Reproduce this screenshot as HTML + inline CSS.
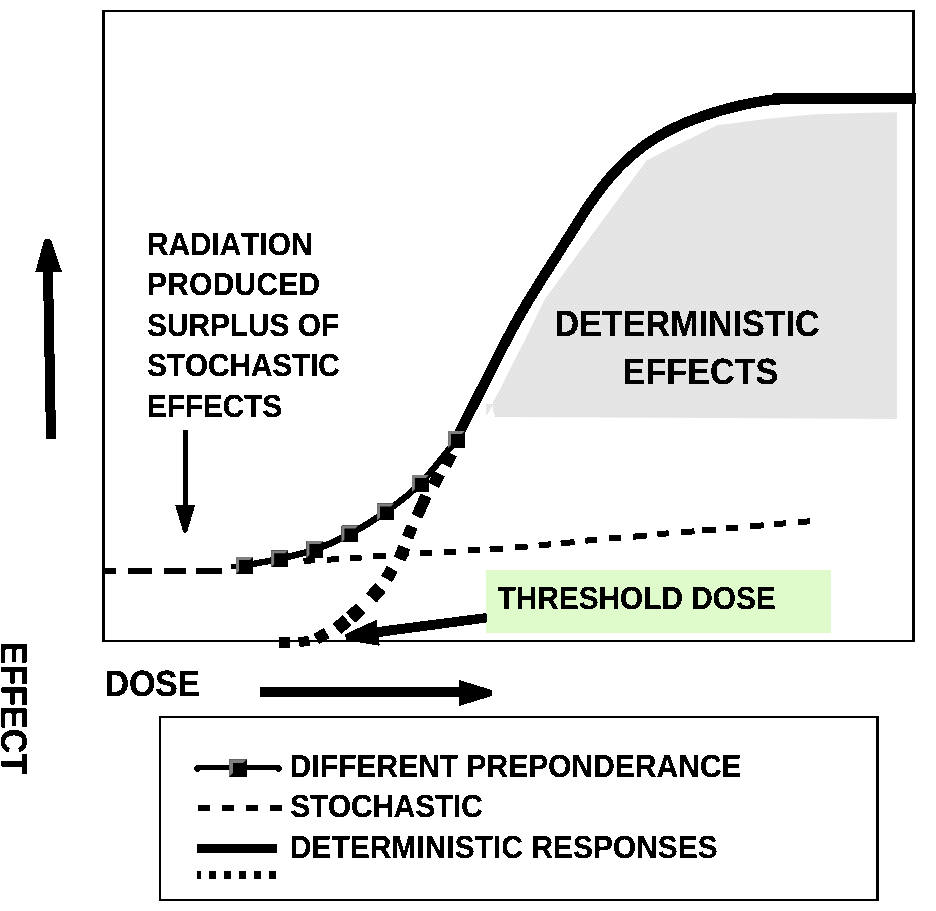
<!DOCTYPE html>
<html><head><meta charset="utf-8"><style>
html,body{margin:0;padding:0;background:#fff;}
svg{display:block;}
svg{will-change:transform;}
text{font-kerning:none;}
</style></head><body>
<svg width="936" height="911" viewBox="0 0 936 911">
<rect x="0" y="0" width="936" height="911" fill="#fff"/>
<defs><pattern id="dith" patternUnits="userSpaceOnUse" x="0" y="0" width="4" height="4"><rect width="4" height="4" fill="#e6e6e6"/><rect x="3" y="0" width="1" height="1" fill="#dadada"/><rect x="1" y="2" width="1" height="1" fill="#dadada"/></pattern></defs>
<polygon points="495.0,417.0 494.0,413.0 493.0,410.0 493.0,402.0 494.0,400.0 500.1,389.4 509.4,370.2 525.2,339.4 544.6,299.4 646.5,160.4 672.7,146.9 694.1,136.7 717.6,125.0 730.0,123.7 745.9,121.4 765.0,119.0 812.2,114.4 860.0,113.0 897.0,112.2 897.0,419.0" fill="url(#dith)"/>
<polygon points="486.1,404.1 493.0,404.1 493.0,405.0 486.3,415.9" fill="url(#dith)"/>
<rect x="486" y="570" width="345" height="63" fill="#e0fbcb"/>
<defs><filter id="bin2" x="0" y="0" width="936" height="911" filterUnits="userSpaceOnUse"><feComponentTransfer><feFuncA type="discrete" tableValues="0 1"/></feComponentTransfer></filter></defs><g filter="url(#bin2)">
<rect x="102" y="10" width="813" height="2" fill="#000"/><rect x="102" y="640" width="813" height="2" fill="#000"/><rect x="102" y="10" width="3" height="632" fill="#000"/><rect x="912" y="10" width="3" height="632" fill="#000"/>
<rect x="104.0" y="567.9" width="12.0" height="5.9" fill="#000"/>
<rect x="128.0" y="567.9" width="24.0" height="5.9" fill="#000"/>
<rect x="164.0" y="567.9" width="22.0" height="5.9" fill="#000"/>
<rect x="196.0" y="567.9" width="26.0" height="5.9" fill="#000"/>
<line x1="231" y1="567" x2="238" y2="566" stroke="#000" stroke-width="5"/>
<line x1="303.5" y1="560.9" x2="315.0" y2="560.3" stroke="#000" stroke-width="6"/>
<line x1="327.0" y1="559.7" x2="339.0" y2="559.0" stroke="#000" stroke-width="6"/>
<line x1="349.7" y1="558.4" x2="361.6" y2="557.5" stroke="#000" stroke-width="6"/>
<line x1="372.7" y1="556.5" x2="385.9" y2="555.4" stroke="#000" stroke-width="6"/>
<line x1="396.2" y1="554.7" x2="408.4" y2="553.8" stroke="#000" stroke-width="6"/>
<line x1="420.0" y1="553.0" x2="432.2" y2="552.4" stroke="#000" stroke-width="6"/>
<line x1="443.8" y1="552.1" x2="456.0" y2="551.4" stroke="#000" stroke-width="6"/>
<line x1="467.8" y1="550.5" x2="480.0" y2="549.7" stroke="#000" stroke-width="6"/>
<line x1="489.6" y1="549.2" x2="503.0" y2="548.4" stroke="#000" stroke-width="6"/>
<line x1="514.8" y1="547.5" x2="527.6" y2="546.4" stroke="#000" stroke-width="6"/>
<line x1="538.7" y1="545.5" x2="551.0" y2="544.3" stroke="#000" stroke-width="6"/>
<line x1="560.7" y1="543.4" x2="574.6" y2="541.9" stroke="#000" stroke-width="6"/>
<line x1="585.3" y1="540.7" x2="597.0" y2="539.5" stroke="#000" stroke-width="6"/>
<line x1="608.8" y1="538.4" x2="621.2" y2="537.4" stroke="#000" stroke-width="6"/>
<line x1="633.0" y1="536.7" x2="646.7" y2="535.5" stroke="#000" stroke-width="6"/>
<line x1="657.4" y1="534.3" x2="668.9" y2="533.2" stroke="#000" stroke-width="6"/>
<line x1="681.3" y1="532.4" x2="694.5" y2="531.3" stroke="#000" stroke-width="6"/>
<line x1="702.2" y1="530.6" x2="715.9" y2="529.4" stroke="#000" stroke-width="6"/>
<line x1="726.0" y1="528.5" x2="738.0" y2="527.5" stroke="#000" stroke-width="6"/>
<line x1="750.3" y1="526.5" x2="763.8" y2="525.2" stroke="#000" stroke-width="6"/>
<line x1="774.2" y1="524.3" x2="786.0" y2="523.2" stroke="#000" stroke-width="6"/>
<line x1="798.2" y1="522.2" x2="810.0" y2="521.2" stroke="#000" stroke-width="6"/>
<rect x="279.0" y="636.8" width="11.0" height="11.0" fill="#000" transform="rotate(0.0 284.5 642.3)"/>
<rect x="298.8" y="636.5" width="10.5" height="10.0" fill="#000" transform="rotate(-10.0 304.0 641.5)"/>
<rect x="315.5" y="630.2" width="12.0" height="11.5" fill="#000" transform="rotate(-30.0 321.5 636.0)"/>
<rect x="335.2" y="617.8" width="13.5" height="13.5" fill="#000" transform="rotate(-40.0 342.0 624.5)"/>
<rect x="348.8" y="606.1" width="13.7" height="13.7" fill="#000" transform="rotate(-43.0 355.7 613.0)"/>
<rect x="369.0" y="585.8" width="13.7" height="14.0" fill="#000" transform="rotate(-49.0 375.9 592.8)"/>
<rect x="383.6" y="567.5" width="11.6" height="12.6" fill="#000" transform="rotate(-62.0 389.4 573.8)"/>
<rect x="395.4" y="546.9" width="13.0" height="12.5" fill="#000" transform="rotate(-68.0 401.9 553.1)"/>
<rect x="403.8" y="526.0" width="12.0" height="12.0" fill="#000" transform="rotate(-68.0 409.8 532.0)"/>
<rect x="410.3" y="500.2" width="22.4" height="11.8" fill="#000" transform="rotate(-65.7 421.5 506.1)"/>
<rect x="430.0" y="473.5" width="13.0" height="12.0" fill="#000" transform="rotate(-62.0 436.5 479.5)"/>
<rect x="442.0" y="453.5" width="13.0" height="12.0" fill="#000" transform="rotate(-62.0 448.5 459.5)"/>
<path d="M244.5,565.4 C250.3,564.3 267.9,561.4 279.6,558.8 C291.3,556.1 303.2,553.6 314.9,549.5 C326.6,545.4 338.1,540.2 349.9,534.0 C361.7,527.8 373.8,520.4 385.5,512.0 C397.2,503.6 408.6,495.6 420.4,483.5 C432.2,471.4 450.5,446.8 456.5,439.5" fill="none" stroke="#000" stroke-width="6.5"/>
<path d="M456.2,439.4 L459.4,432.7 L462.6,426.2 L465.9,419.6 L469.2,413.1 L472.6,406.5 L475.9,400.0 L479.3,393.5 L482.7,387.0 L486.0,380.4 L489.3,373.9 L492.6,367.3 L495.9,360.7 L499.2,354.1 L502.5,347.6 L505.9,341.1 L509.3,334.6 L512.8,328.1 L516.3,321.7 L519.9,315.3 L523.6,309.0 L527.3,302.7 L531.1,296.4 L535.0,290.2 L538.8,283.9 L542.7,277.7 L546.6,271.5 L550.6,265.3 L554.5,259.2 L558.5,253.0 L562.4,246.8 L566.3,240.6 L570.3,234.4 L574.2,228.2 L578.1,221.9 L582.0,215.7 L586.0,209.6 L590.1,203.5 L594.3,197.5 L598.6,191.6 L603.1,185.8 L607.7,180.1 L612.5,174.5 L617.5,169.1 L622.6,163.9 L627.9,158.9 L633.4,154.1 L639.1,149.5 L645.0,145.1 L651.0,141.0 L657.2,137.1 L663.5,133.4 L670.0,130.0 L676.6,126.7 L683.3,123.7 L690.1,120.9 L697.0,118.3 L704.0,115.8 L711.0,113.5 L718.0,111.3 L725.1,109.3 L732.2,107.4 L739.4,105.6 L746.5,104.1 L753.7,102.6 L760.9,101.4 L768.1,100.3 L775.4,99.4 L782.6,98.7 L789.9,98.2 L916,98.6" fill="none" stroke="#000" stroke-width="10.5" stroke-linejoin="round"/>
<rect x="772.5" y="93.1" width="143.1" height="11.2" fill="#000"/>
<rect x="236.1" y="557.0" width="16.8" height="16.8" fill="#000"/><polygon points="236.1,557.0 252.9,557.0 250.0,559.9 239.0,559.9 239.0,570.9 236.1,573.8" fill="#808080"/>
<rect x="271.2" y="550.4" width="16.8" height="16.8" fill="#000"/><polygon points="271.2,550.4 288.0,550.4 285.1,553.3 274.1,553.3 274.1,564.3 271.2,567.2" fill="#808080"/>
<rect x="306.5" y="541.1" width="16.8" height="16.8" fill="#000"/><polygon points="306.5,541.1 323.3,541.1 320.4,544.0 309.4,544.0 309.4,555.0 306.5,557.9" fill="#808080"/>
<rect x="341.5" y="525.6" width="16.8" height="16.8" fill="#000"/><polygon points="341.5,525.6 358.3,525.6 355.4,528.5 344.4,528.5 344.4,539.5 341.5,542.4" fill="#808080"/>
<rect x="377.1" y="503.6" width="16.8" height="16.8" fill="#000"/><polygon points="377.1,503.6 393.9,503.6 391.0,506.5 380.0,506.5 380.0,517.5 377.1,520.4" fill="#808080"/>
<rect x="412.0" y="475.1" width="16.8" height="16.8" fill="#000"/><polygon points="412.0,475.1 428.8,475.1 425.9,478.0 414.9,478.0 414.9,489.0 412.0,491.9" fill="#808080"/>
<rect x="448.1" y="431.1" width="16.8" height="16.8" fill="#000"/><polygon points="448.1,431.1 464.9,431.1 462.0,434.0 451.0,434.0 451.0,445.0 448.1,447.9" fill="#808080"/>
<polygon points="486.5,613 486.5,622.6 378.8,637 377.8,627" fill="#000"/>
<polygon points="345,634.3 376.5,619.8 379.7,645.8 346,640.3" fill="#000"/>
<polygon points="43,272 53,272 56,439 46,439" fill="#000"/>
<polygon points="35.3,272 44,240.5 45.3,239 49.8,239 51.2,240.5 62,272" fill="#000"/>
<rect x="183" y="430" width="5" height="76" fill="#000"/>
<polygon points="175.1,504.9 195.2,504.9 186.9,532.6 183.4,532.6" fill="#000"/>
<rect x="260" y="687" width="200" height="9.7" fill="#000"/>
<polygon points="459,680 492,690 492,696 459,706" fill="#000"/>
<rect x="159" y="716" width="720" height="2" fill="#000"/><rect x="159" y="899" width="720" height="2" fill="#000"/><rect x="159" y="716" width="2" height="185" fill="#000"/><rect x="876" y="716" width="3" height="185" fill="#000"/>
<line x1="197" y1="767.4" x2="279" y2="767.4" stroke="#000" stroke-width="4.6"/><circle cx="197.6" cy="768.6" r="3.3" fill="#000"/><circle cx="278.6" cy="768.6" r="3.3" fill="#000"/>
<rect x="229.2" y="759.2" width="17.6" height="17.6" fill="#000"/><polygon points="229.2,759.2 246.8,759.2 243.0,763.0 233.0,763.0 233.0,773.0 229.2,776.8" fill="#808080"/>
<line x1="198" y1="807.8" x2="282" y2="807.8" stroke="#000" stroke-width="6" stroke-dasharray="12 12"/>
<rect x="197" y="844" width="80" height="9" fill="#000"/>
<line x1="197" y1="874.85" x2="276" y2="874.85" stroke="#000" stroke-width="7.9" stroke-dasharray="7 8" stroke-dashoffset="3"/>
</g>
<defs><filter id="bin" x="0" y="0" width="936" height="911" filterUnits="userSpaceOnUse"><feComponentTransfer><feFuncA type="discrete" tableValues="0 0 1 1 1 1"/></feComponentTransfer></filter></defs><g filter="url(#bin)">
<text transform="translate(146.90,255.00) scale(1,1.075)" font-size="29.8" font-family="Liberation Sans, sans-serif" font-weight="bold" text-rendering="geometricPrecision">RADIATION</text>
<text transform="translate(147.00,294.90) scale(1,1.075)" font-size="29.8" font-family="Liberation Sans, sans-serif" font-weight="bold" text-rendering="geometricPrecision" style="letter-spacing:0.373px">PRODUCED</text>
<text transform="translate(147.10,335.70) scale(1,1.075)" font-size="29.8" font-family="Liberation Sans, sans-serif" font-weight="bold" text-rendering="geometricPrecision">SURPLUS OF</text>
<text transform="translate(147.10,375.80) scale(1,1.075)" font-size="29.8" font-family="Liberation Sans, sans-serif" font-weight="bold" text-rendering="geometricPrecision" style="letter-spacing:-0.100px">STOCHASTIC</text>
<text transform="translate(147.00,416.90) scale(1,1.075)" font-size="29.8" font-family="Liberation Sans, sans-serif" font-weight="bold" text-rendering="geometricPrecision" style="letter-spacing:-0.100px">EFFECTS</text>
<text transform="translate(554.50,336.00) scale(1,1.075)" font-size="34.1" font-family="Liberation Sans, sans-serif" font-weight="bold" text-rendering="geometricPrecision">DETERMINISTIC</text>
<text transform="translate(622.60,383.90) scale(1,1.075)" font-size="34.1" font-family="Liberation Sans, sans-serif" font-weight="bold" text-rendering="geometricPrecision" style="letter-spacing:0.077px">EFFECTS</text>
<text transform="translate(497.60,609.10) scale(1,1.075)" font-size="29.8" font-family="Liberation Sans, sans-serif" font-weight="bold" text-rendering="geometricPrecision">THRESHOLD DOSE</text>
<text transform="translate(104.60,696.00) scale(1,1.075)" font-size="34.1" font-family="Liberation Sans, sans-serif" font-weight="bold" text-rendering="geometricPrecision" style="letter-spacing:-0.300px">DOSE</text>
<text transform="translate(1.07,641.7) rotate(90) scale(1,1.075)" font-size="34.1" font-family="Liberation Sans, sans-serif" font-weight="bold" text-rendering="geometricPrecision">EFFECT</text>
<text transform="translate(289.80,777.00) scale(1,1.075)" font-size="29.8" font-family="Liberation Sans, sans-serif" font-weight="bold" text-rendering="geometricPrecision" style="letter-spacing:0.135px">DIFFERENT PREPONDERANCE</text>
<text transform="translate(290.20,816.90) scale(1,1.075)" font-size="29.8" font-family="Liberation Sans, sans-serif" font-weight="bold" text-rendering="geometricPrecision" style="letter-spacing:-0.125px">STOCHASTIC</text>
<text transform="translate(289.90,857.80) scale(1,1.075)" font-size="29.8" font-family="Liberation Sans, sans-serif" font-weight="bold" text-rendering="geometricPrecision" style="letter-spacing:0.105px">DETERMINISTIC RESPONSES</text>
</g>
</svg>
</body></html>
